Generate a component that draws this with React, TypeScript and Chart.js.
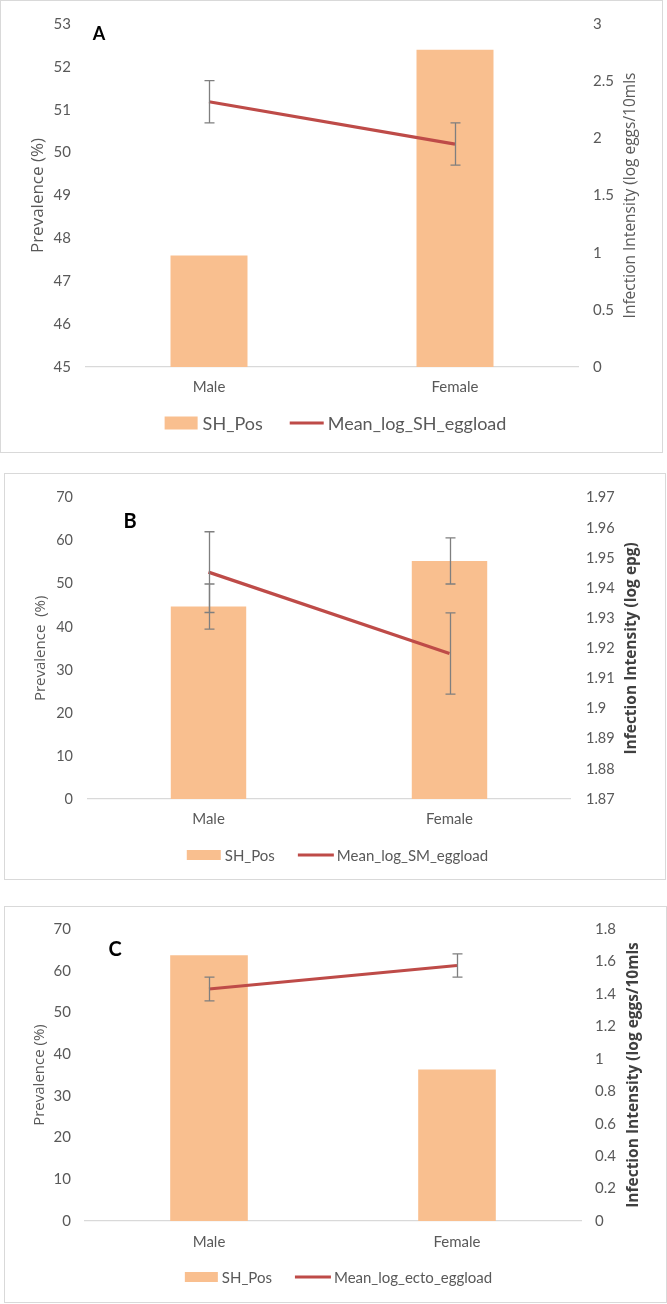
import React, { useEffect, useRef } from "react";
import { Chart, registerables } from "chart.js";

Chart.register(...registerables);

// ---------- DATA ----------
const CATEGORIES = ["Male", "Female"];

// Panel A
const A_PREVALENCE = [47.6, 52.4];
const A_INTENSITY = [2.32, 1.95];
const A_INTENSITY_ERR = [0.185, 0.185];
const A_LEFT_TICKS = ["45", "46", "47", "48", "49", "50", "51", "52", "53"];
const A_RIGHT_TICKS = ["0", "0.5", "1", "1.5", "2", "2.5", "3"];
const A_BAR_LABEL = "SH_Pos";
const A_LINE_LABEL = "Mean_log_SH_eggload";
const A_LEFT_TITLE = "Prevalence (%)";
const A_RIGHT_TITLE = "Infection Intensity (log eggs/10mls";

// Panel B
const B_PREVALENCE = [44.7, 55.3];
const B_PREVALENCE_ERR = [5.25, 5.35];
const B_INTENSITY = [1.9453, 1.9183];
const B_INTENSITY_ERR = [0.0134, 0.0135];
const B_LEFT_TICKS = ["0", "10", "20", "30", "40", "50", "60", "70"];
const B_RIGHT_TICKS = ["1.87", "1.88", "1.89", "1.9", "1.91", "1.92", "1.93", "1.94", "1.95", "1.96", "1.97"];
const B_BAR_LABEL = "SH_Pos";
const B_LINE_LABEL = "Mean_log_SM_eggload";
const B_LEFT_TITLE = "Prevalence  (%)";
const B_RIGHT_TITLE = "Infection Intensity (log epg)";

// Panel C
const C_PREVALENCE = [63.7, 36.3];
const C_INTENSITY = [1.43, 1.575];
const C_INTENSITY_ERR = [0.073, 0.072];
const C_LEFT_TICKS = ["0", "10", "20", "30", "40", "50", "60", "70"];
const C_RIGHT_TICKS = ["0", "0.2", "0.4", "0.6", "0.8", "1", "1.2", "1.4", "1.6", "1.8"];
const C_BAR_LABEL = "SH_Pos";
const C_LINE_LABEL = "Mean_log_ecto_eggload";
const C_LEFT_TITLE = "Prevalence (%)";
const C_RIGHT_TITLE = "Infection Intensity (log eggs/10mls";

// ---------- STYLE ----------
const BAR_COLOR = "#F9BF8F";
const LINE_COLOR = "#BE4B48";
const TEXT_GRAY = "#595959";
const DARK_GRAY = "#404040";
const ERR_COLOR = "#7F7F7F";
const BORDER_COLOR = "#D9D9D9";

type PanelCfg = {
  x: number; y: number; w: number; h: number;
  plotTop: number; plotBottom: number; plotLeft: number; plotRight: number;
  leftPad: number; rightPad: number; xPad: number;
  tickSize: number; xTickSize: number;
  leftTitleX: number; leftTitleSize: number;
  rightTitleX: number; rightTitleSize: number; rightTitleBold: boolean;
  letter: string; letterX: number; letterY: number; letterSize: number;
  legendY: number; legendCx: number; legendSize: number;
  boxW: number; boxH: number; gap1: number; gap2: number; lineW: number; gap3: number;
  categories: string[];
  prevalence: number[]; prevalenceErr: number[] | null;
  intensity: number[]; intensityErr: number[] | null;
  leftTicks: string[]; rightTicks: string[];
  barLabel: string; lineLabel: string;
  leftTitle: string; rightTitle: string;
};

const PANELS: PanelCfg[] = [
  {
    x: 0, y: 0, w: 663, h: 453,
    plotTop: 21, plotBottom: 367, plotLeft: 86, plotRight: 578,
    leftPad: 15, rightPad: 15, xPad: 11,
    tickSize: 15, xTickSize: 15,
    leftTitleX: 38, leftTitleSize: 17,
    rightTitleX: 631, rightTitleSize: 15.5, rightTitleBold: false,
    letter: "A", letterX: 99, letterY: 34, letterSize: 18,
    legendY: 423, legendCx: 335.5, legendSize: 18,
    boxW: 33, boxH: 13, gap1: 5, gap2: 27, lineW: 34, gap3: 4,
    categories: CATEGORIES,
    prevalence: A_PREVALENCE, prevalenceErr: null,
    intensity: A_INTENSITY, intensityErr: A_INTENSITY_ERR,
    leftTicks: A_LEFT_TICKS, rightTicks: A_RIGHT_TICKS,
    barLabel: A_BAR_LABEL, lineLabel: A_LINE_LABEL,
    leftTitle: A_LEFT_TITLE, rightTitle: A_RIGHT_TITLE,
  },
  {
    x: 4, y: 473, w: 662, h: 407,
    plotTop: 21, plotBottom: 326, plotLeft: 84, plotRight: 566,
    leftPad: 15, rightPad: 16, xPad: 11,
    tickSize: 14.5, xTickSize: 15,
    leftTitleX: 37, leftTitleSize: 15,
    rightTitleX: 628, rightTitleSize: 15.5, rightTitleBold: true,
    letter: "B", letterX: 126, letterY: 49, letterSize: 20,
    legendY: 382, legendCx: 333.5, legendSize: 15,
    boxW: 34, boxH: 10, gap1: 4, gap2: 23, lineW: 36, gap3: 3,
    categories: CATEGORIES,
    prevalence: B_PREVALENCE, prevalenceErr: B_PREVALENCE_ERR,
    intensity: B_INTENSITY, intensityErr: B_INTENSITY_ERR,
    leftTicks: B_LEFT_TICKS, rightTicks: B_RIGHT_TICKS,
    barLabel: B_BAR_LABEL, lineLabel: B_LINE_LABEL,
    leftTitle: B_LEFT_TITLE, rightTitle: B_RIGHT_TITLE,
  },
  {
    x: 4, y: 906, w: 663, h: 397,
    plotTop: 20, plotBottom: 315, plotLeft: 81, plotRight: 577,
    leftPad: 14, rightPad: 14, xPad: 12,
    tickSize: 15, xTickSize: 15,
    leftTitleX: 36, leftTitleSize: 15,
    rightTitleX: 630, rightTitleSize: 15.5, rightTitleBold: true,
    letter: "C", letterX: 111, letterY: 44, letterSize: 20,
    legendY: 371, legendCx: 334.5, legendSize: 15,
    boxW: 33, boxH: 10, gap1: 4, gap2: 23, lineW: 36, gap3: 3,
    categories: CATEGORIES,
    prevalence: C_PREVALENCE, prevalenceErr: null,
    intensity: C_INTENSITY, intensityErr: C_INTENSITY_ERR,
    leftTicks: C_LEFT_TICKS, rightTicks: C_RIGHT_TICKS,
    barLabel: C_BAR_LABEL, lineLabel: C_LINE_LABEL,
    leftTitle: C_LEFT_TITLE, rightTitle: C_RIGHT_TITLE,
  },
];

function labelFor(list: string[], v: number): string {
  const hit = list.find((s) => Math.abs(parseFloat(s) - v) < 1e-9);
  return hit ?? "";
}

function makeOverlay(cfg: PanelCfg) {
  return {
    id: "overlay" + cfg.letter,
    afterDatasetsDraw(chart: any) {
      const ctx = chart.ctx;
      ctx.save();
      chart.data.datasets.forEach((ds: any, di: number) => {
        const errs: number[] | null = ds.errorBars;
        if (!errs) return;
        const meta = chart.getDatasetMeta(di);
        const scale = chart.scales[ds.yAxisID];
        ds.data.forEach((v: number, i: number) => {
          const e = errs[i];
          if (e == null) return;
          const x = Math.round(meta.data[i].x) + 0.5;
          const yT = scale.getPixelForValue(v + e);
          const yB = scale.getPixelForValue(v - e);
          ctx.strokeStyle = ERR_COLOR;
          ctx.lineWidth = 1.3;
          ctx.beginPath();
          ctx.moveTo(x, yT);
          ctx.lineTo(x, yB);
          ctx.moveTo(x - 5, yT);
          ctx.lineTo(x + 5, yT);
          ctx.moveTo(x - 5, yB);
          ctx.lineTo(x + 5, yB);
          ctx.stroke();
        });
      });
      ctx.restore();
    },
    afterDraw(chart: any) {
      const ctx = chart.ctx;
      const area = chart.chartArea;
      const midY = (area.top + area.bottom) / 2;
      ctx.save();
      // left title
      ctx.save();
      ctx.translate(cfg.leftTitleX, midY);
      ctx.rotate(-Math.PI / 2);
      ctx.font = `${cfg.leftTitleSize}px "Open Sans"`;
      ctx.fillStyle = TEXT_GRAY;
      ctx.textAlign = "center";
      ctx.textBaseline = "middle";
      ctx.fillText(cfg.leftTitle, 0, 0);
      ctx.restore();
      // right title (reads bottom to top)
      ctx.save();
      ctx.translate(cfg.rightTitleX, midY);
      ctx.rotate(-Math.PI / 2);
      ctx.font = `${cfg.rightTitleBold ? "bold " : ""}${cfg.rightTitleSize}px "Open Sans"`;
      ctx.fillStyle = cfg.rightTitleBold ? DARK_GRAY : TEXT_GRAY;
      ctx.textAlign = "center";
      ctx.textBaseline = "middle";
      ctx.fillText(cfg.rightTitle, 0, 0);
      ctx.restore();
      // panel letter
      ctx.font = `bold ${cfg.letterSize}px Lato`;
      ctx.fillStyle = "#000000";
      ctx.textAlign = "center";
      ctx.textBaseline = "middle";
      ctx.fillText(cfg.letter, cfg.letterX, cfg.letterY);
      // legend
      const bar = chart.data.datasets[0];
      const line = chart.data.datasets[1];
      ctx.font = `${cfg.legendSize}px Lato`;
      ctx.textAlign = "left";
      ctx.textBaseline = "middle";
      const w0 = ctx.measureText(bar.label).width;
      const w1 = ctx.measureText(line.label).width;
      const total = cfg.boxW + cfg.gap1 + w0 + cfg.gap2 + cfg.lineW + cfg.gap3 + w1;
      let x = cfg.legendCx - total / 2;
      const y = cfg.legendY;
      ctx.fillStyle = bar.backgroundColor;
      ctx.fillRect(x, y - cfg.boxH / 2, cfg.boxW, cfg.boxH);
      x += cfg.boxW + cfg.gap1;
      ctx.fillStyle = TEXT_GRAY;
      ctx.fillText(bar.label, x, y + 1);
      x += w0 + cfg.gap2;
      ctx.strokeStyle = line.borderColor;
      ctx.lineWidth = 3;
      ctx.beginPath();
      ctx.moveTo(x, y);
      ctx.lineTo(x + cfg.lineW, y);
      ctx.stroke();
      x += cfg.lineW + cfg.gap3;
      ctx.fillStyle = TEXT_GRAY;
      ctx.fillText(line.label, x, y + 1);
      ctx.restore();
    },
  };
}

function buildConfig(cfg: PanelCfg): any {
  const leftVals = cfg.leftTicks.map((s) => parseFloat(s));
  const rightVals = cfg.rightTicks.map((s) => parseFloat(s));
  return {
    type: "bar",
    data: {
      labels: cfg.categories,
      datasets: [
        {
          type: "bar",
          label: cfg.barLabel,
          data: cfg.prevalence,
          errorBars: cfg.prevalenceErr,
          backgroundColor: BAR_COLOR,
          borderWidth: 0,
          yAxisID: "y",
          barPercentage: 0.313,
          categoryPercentage: 1,
          order: 2,
        },
        {
          type: "line",
          label: cfg.lineLabel,
          data: cfg.intensity,
          errorBars: cfg.intensityErr,
          borderColor: LINE_COLOR,
          backgroundColor: LINE_COLOR,
          borderWidth: 3.2,
          pointRadius: 0,
          pointHoverRadius: 0,
          tension: 0,
          fill: false,
          yAxisID: "y1",
          order: 1,
        },
      ],
    },
    options: {
      animation: false,
      responsive: false,
      maintainAspectRatio: false,
      devicePixelRatio: 1,
      events: [],
      layout: { padding: { top: cfg.plotTop, left: 0, right: 0, bottom: 0 } },
      plugins: {
        legend: { display: false },
        tooltip: { enabled: false },
        title: { display: false },
      },
      scales: {
        x: {
          type: "category",
          offset: true,
          grid: { display: false, drawTicks: false },
          border: { display: true, color: BORDER_COLOR, width: 1.3 },
          ticks: {
            color: TEXT_GRAY,
            font: { family: "Lato", size: cfg.xTickSize },
            padding: cfg.xPad,
            maxRotation: 0,
          },
          afterFit: (s: any) => {
            s.height = cfg.h - cfg.plotBottom;
          },
        },
        y: {
          type: "linear",
          position: "left",
          min: leftVals[0],
          max: leftVals[leftVals.length - 1],
          grid: { display: false, drawTicks: false },
          border: { display: false },
          afterBuildTicks: (s: any) => {
            s.ticks = leftVals.map((v) => ({ value: v }));
          },
          ticks: {
            color: TEXT_GRAY,
            font: { family: "Lato", size: cfg.tickSize },
            padding: cfg.leftPad,
            callback: (v: number) => labelFor(cfg.leftTicks, v),
          },
          afterFit: (s: any) => {
            s.width = cfg.plotLeft;
          },
        },
        y1: {
          type: "linear",
          position: "right",
          min: rightVals[0],
          max: rightVals[rightVals.length - 1],
          grid: { display: false, drawTicks: false },
          border: { display: false },
          afterBuildTicks: (s: any) => {
            s.ticks = rightVals.map((v) => ({ value: v }));
          },
          ticks: {
            color: TEXT_GRAY,
            font: { family: "Lato", size: cfg.tickSize },
            padding: cfg.rightPad,
            callback: (v: number) => labelFor(cfg.rightTicks, v),
          },
          afterFit: (s: any) => {
            s.width = cfg.w - cfg.plotRight;
          },
        },
      },
    },
    plugins: [makeOverlay(cfg)],
  };
}

function Panel({ cfg }: { cfg: PanelCfg }) {
  const ref = useRef<HTMLCanvasElement>(null);
  useEffect(() => {
    if (!ref.current) return;
    const chart = new Chart(ref.current, buildConfig(cfg));
    return () => chart.destroy();
  }, [cfg]);
  return (
    <>
      <canvas
        ref={ref}
        width={cfg.w}
        height={cfg.h}
        style={{ position: "absolute", left: cfg.x, top: cfg.y, width: cfg.w, height: cfg.h }}
      />
      <div
        style={{
          position: "absolute",
          left: cfg.x,
          top: cfg.y,
          width: cfg.w,
          height: cfg.h,
          border: `1.5px solid ${BORDER_COLOR}`,
          boxSizing: "border-box",
          pointerEvents: "none",
        }}
      />
    </>
  );
}

export default function App() {
  return (
    <div
      style={{
        position: "absolute",
        left: 0,
        top: 0,
        width: 667,
        height: 1304,
        background: "#ffffff",
        overflow: "hidden",
      }}
    >
      {PANELS.map((p) => (
        <Panel key={p.letter} cfg={p} />
      ))}
    </div>
  );
}
